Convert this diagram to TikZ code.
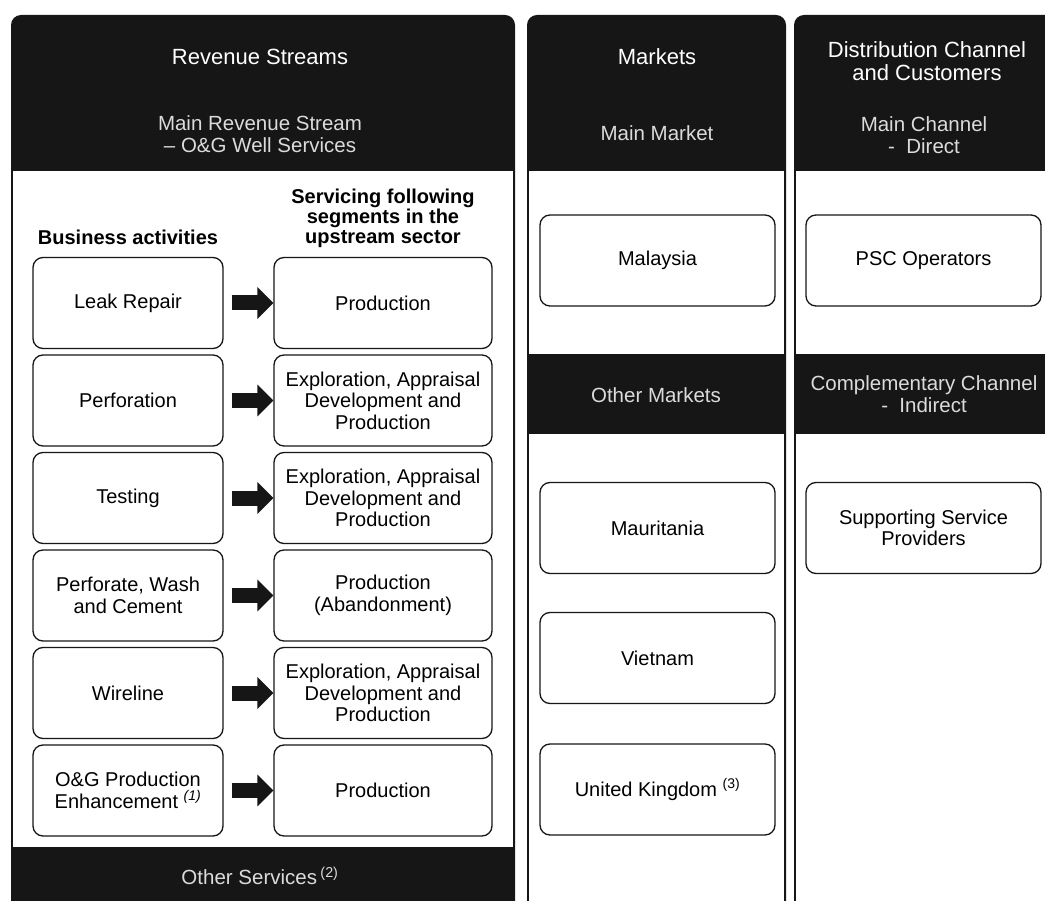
\documentclass[tikz,border=0pt]{standalone}
\usepackage{fontspec}
\setmainfont{Liberation Sans}
\usetikzlibrary{arrows.meta}

\definecolor{hdr}{HTML}{161616}
\newcommand{\txtsize}{\fontsize{20}{21.5}\selectfont}

\tikzset{
    hdrtext/.style={text=white, align=center, font=\fontsize{22}{22.5}\selectfont},
    subtext/.style={text=white!86!black, align=center, font=\fontsize{20.5}{21.5}\selectfont},
    coltitle/.style={align=center, font=\fontsize{20}{20}\selectfont\bfseries},
    itembox/.style={draw=hdr, line width=1.3pt, rounded corners=10pt, align=center,
        font=\txtsize, minimum height=91pt, inner sep=0pt},
    actbox/.style={itembox, minimum width=190pt},
    segbox/.style={itembox, minimum width=218pt},
    mktbox/.style={itembox, minimum width=235pt},
    blockarrow/.style={draw=hdr, line width=15pt,
        -{Triangle[length=16pt,width=31pt]}, shorten <=8pt}
}

\begin{document}
\begin{tikzpicture}[x=1pt,y=-1pt]
    \useasboundingbox (0,0) rectangle (1045,901);
    \clip (0,0) rectangle (1045,901);

    % Spalten
    \fill[hdr, rounded corners=10pt] (11,15) rectangle (515,930);
    \fill[white] (12.6,171) rectangle (513.4,847);
    \fill[hdr, rounded corners=10pt] (527,15) rectangle (786,930);
    \fill[white] (528.6,171) rectangle (784.4,354);
    \fill[white] (528.6,434) rectangle (784.4,930);
    \fill[hdr, rounded corners=10pt] (794,15) rectangle (1060,930);
    \fill[white] (795.6,171) rectangle (1058,354);
    \fill[white] (795.6,434) rectangle (1058,930);

    % Revenue Streams
    \node[hdrtext] (revenue) at (260,57) {Revenue Streams};
    \node[subtext] (mainrev) at (260,134) {Main Revenue Stream\\– O\&G Well Services};
    \node[coltitle] (bizact) at (128,237) {Business activities};
    \node[coltitle] (segments) at (383,218) {Servicing following\\segments in the\\upstream sector};

    \foreach \i/\act/\seg in {1/Leak Repair/Production,
            2/Perforation/{Exploration, Appraisal\\Development and\\Production},
            3/Testing/{Exploration, Appraisal\\Development and\\Production},
            4/{Perforate, Wash\\and Cement}/{Production\\(Abandonment)},
            5/Wireline/{Exploration, Appraisal\\Development and\\Production},
            6/{O\&G Production\\Enhancement \textsuperscript{\itshape(1)}}/Production} {
        \pgfmathsetmacro\ry{303+(\i-1)*97.5}
        \node[actbox] (act\i) at (128,\ry) {\act};
        \node[segbox] (seg\i) at (383,\ry) {\seg};
        \draw[blockarrow] (act\i) -- (seg\i);
    }

    \node[subtext] (othersvc) at (260,876) {Other Services\,\textsuperscript{(2)}};

    % Markets
    \node[hdrtext] (markets) at (657,57) {Markets};
    \node[subtext] (mainmkt) at (657,133) {Main Market};
    \node[subtext] (othermkt) at (656,395) {Other Markets};
    \node[mktbox] (malaysia) at (657.5,260.5) {Malaysia};
    \node[mktbox] (mauritania) at (657.5,528) {Mauritania};
    \node[mktbox] (vietnam) at (657.5,658) {Vietnam};
    \node[mktbox] (uk) at (657.5,789.5) {United Kingdom \textsuperscript{(3)}};

    % Distribution Channel
    \node[hdrtext] (distrib) at (927,61) {Distribution Channel\\and Customers};
    \node[subtext] (mainch) at (924,135) {Main Channel\\-\ \ Direct};
    \node[subtext] (compch) at (924,394) {Complementary Channel\\-\ \ Indirect};
    \node[mktbox] (psc) at (923.5,260.5) {PSC Operators};
    \node[mktbox] (support) at (923.5,528) {Supporting Service\\Providers};
\end{tikzpicture}
\end{document}
